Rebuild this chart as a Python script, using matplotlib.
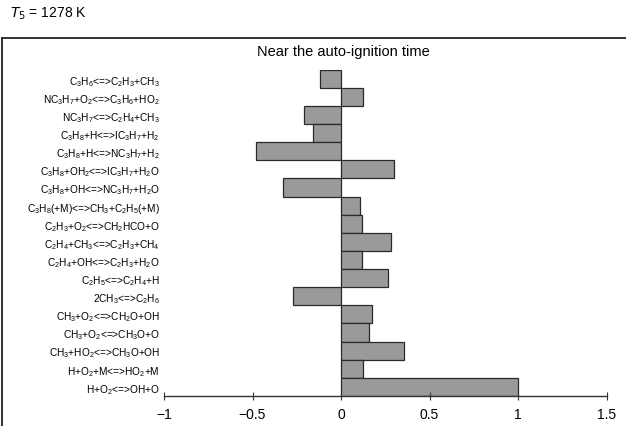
import matplotlib as mpl
import matplotlib.pyplot as plt
from matplotlib.lines import Line2D

mpl.rcParams.update(
    {
        "font.family": ["Liberation Sans", "DejaVu Sans"],
        "mathtext.default": "regular",
    }
)

# reactions, top to bottom
reactions = [
    r"C$_3$H$_6$<=>C$_2$H$_3$+CH$_3$",
    r"NC$_3$H$_7$+O$_2$<=>C$_3$H$_6$+HO$_2$",
    r"NC$_3$H$_7$<=>C$_2$H$_4$+CH$_3$",
    r"C$_3$H$_8$+H<=>IC$_3$H$_7$+H$_2$",
    r"C$_3$H$_8$+H<=>NC$_3$H$_7$+H$_2$",
    r"C$_3$H$_8$+OH$_2$<=>IC$_3$H$_7$+H$_2$O",
    r"C$_3$H$_8$+OH<=>NC$_3$H$_7$+H$_2$O",
    r"C$_3$H$_8$(+M)<=>CH$_3$+C$_2$H$_5$(+M)",
    r"C$_2$H$_3$+O$_2$<=>CH$_2$HCO+O",
    r"C$_2$H$_4$+CH$_3$<=>C$_2$H$_3$+CH$_4$",
    r"C$_2$H$_4$+OH<=>C$_2$H$_3$+H$_2$O",
    r"C$_2$H$_5$<=>C$_2$H$_4$+H",
    r"2CH$_3$<=>C$_2$H$_6$",
    r"CH$_3$+O$_2$<=>CH$_2$O+OH",
    r"CH$_3$+O$_2$<=>CH$_3$O+O",
    r"CH$_3$+HO$_2$<=>CH$_3$O+OH",
    r"H+O$_2$+M<=>HO$_2$+M",
    r"H+O$_2$<=>OH+O",
]
sensitivity = [
    -0.12, 0.126, -0.21, -0.157, -0.48, 0.30, -0.33, 0.11, 0.12,
    0.285, 0.12, 0.264, -0.27, 0.177, 0.156, 0.358, 0.122, 1.0,
]
xticks = [-1, -0.5, 0, 0.5, 1, 1.5]
xtick_labels = ["\u22121", "\u22120.5", "0", "0.5", "1", "1.5"]

W, H = 626, 427
fig = plt.figure(figsize=(W / 100, H / 100), dpi=100)
ax = fig.add_axes([164 / W, 1 - 397 / H, 442.5 / W, 326.3 / H])

n = len(reactions)
ypos = list(range(n - 1, -1, -1))
ax.barh(ypos, sensitivity, height=1.0, color="#9a9a9a",
        edgecolor="#2a2a2a", linewidth=0.9)

ax.set_xlim(-1, 1.5)
ax.set_ylim(-0.5, n - 0.5)
ax.set_xticks(xticks)
ax.set_xticklabels(xtick_labels, fontsize=10)
ax.set_yticks(ypos)
ax.set_yticklabels(reactions, fontsize=7.3)
ax.tick_params(axis="y", length=0, pad=3)
ax.tick_params(axis="x", direction="inout", length=6, width=0.8,
               color="#333333", pad=5)
for s in ["left", "right", "top"]:
    ax.spines[s].set_visible(False)
ax.spines["bottom"].set_color("#333333")
ax.spines["bottom"].set_linewidth(1.0)

# outer frame (top and left edges visible)
fig.add_artist(Line2D([2 / W, 1], [1 - 39 / H, 1 - 39 / H],
                      transform=fig.transFigure, color="#222222", lw=1.3))
fig.add_artist(Line2D([2 / W, 2 / W], [0, 1 - 39 / H],
                      transform=fig.transFigure, color="#222222", lw=1.3))

fig.text(343 / W, 1 - 52 / H, "Near the auto-ignition time",
         ha="center", va="center", fontsize=10.5)
fig.text(10 / W, 1 - 14 / H, r"$\it{T}_5$ = 1278 K",
         ha="left", va="center", fontsize=10)

fig.savefig("out.png", dpi=100)
